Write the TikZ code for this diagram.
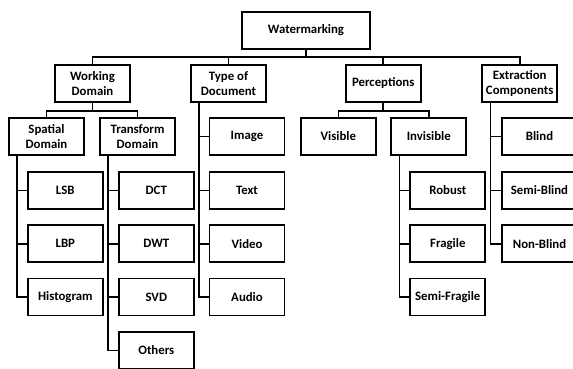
\documentclass[tikz,border=0pt]{standalone}
\usepackage{fontspec}
\setmainfont{Carlito}
\tikzset{
  box/.style={draw, line width=1.9pt, minimum width=75pt, minimum height=37pt,
    align=center, inner sep=1pt, outer sep=0pt,
    font=\bfseries\fontsize{12.8}{14.7}\selectfont},
  conn/.style={line width=1.6pt}
}
\begin{document}
\begin{tikzpicture}[x=1pt,y=-1pt]
\useasboundingbox (0,0) rectangle (573,369);
\clip (0,0) rectangle (573,369);
% level 0
\node[box, minimum width=128pt] (wm) at (306,30.5) {Watermarking};
% level 1
\node[box] (wd) at (92.5,83.5) {Working\\Domain};
\node[box] (td) at (228.5,83.5) {Type of\\Document};
\node[box] (pc) at (383.2,83.5) {Perceptions};
\node[box] (ec) at (519.7,83.5) {Extraction\\Components};
% level 2
\node[box] (sd) at (46.5,136.5) {Spatial\\Domain};
\node[box] (tf) at (137.5,136.5) {Transform\\Domain};
\node[box] (im) at (247,136.5) {Image};
\node[box] (vi) at (338.3,136.5) {Visible};
\node[box] (iv) at (428.8,136.5) {Invisible};
\node[box] (bl) at (539.5,136.5) {Blind};
% leaves
\node[box] (lsb) at (65.3,190.5) {LSB};
\node[box] (lbp) at (65.3,243.7) {LBP};
\node[box] (hist) at (65.3,297) {Histogram};
\node[box] (dct) at (156.3,190.5) {DCT};
\node[box] (dwt) at (156.3,243.7) {DWT};
\node[box] (svd) at (156.3,297) {SVD};
\node[box] (oth) at (156.3,350.3) {Others};
\node[box] (txt) at (247,190.5) {Text};
\node[box] (vid) at (247,243.7) {Video};
\node[box] (aud) at (247,297) {Audio};
\node[box] (rob) at (447.8,190.5) {Robust};
\node[box] (fra) at (447.8,243.7) {Fragile};
\node[box] (sfr) at (447.8,297) {Semi-Fragile};
\node[box] (sbl) at (539.5,190.5) {Semi-Blind};
\node[box] (nbl) at (539.5,243.7) {Non-Blind};
% connectors: top bus
\coordinate (bus) at (306,57);
\draw[conn] (wm.south) -- (bus);
\draw[conn] (wd.north) |- (bus) -| (ec.north);
\draw[conn] (td.north) -- (td.north |- bus);
\draw[conn] (pc.north) -- (pc.north |- bus);
% working domain
\draw[conn] (wd.south) -- ++(0,9) coordinate (wb);
\draw[conn] (sd.north) |- (wb) -| (tf.north);
% perceptions
\draw[conn] (pc.south) -- ++(0,9) coordinate (pb);
\draw[conn] (vi.north) |- (pb) -| (iv.north);
% side trees
\foreach \c in {lsb,lbp,hist} \draw[conn] ([xshift=7.7pt]sd.south west) |- (\c.west);
\foreach \c in {dct,dwt,svd,oth} \draw[conn] ([xshift=7.7pt]tf.south west) |- (\c.west);
\foreach \c in {im,txt,vid,aud} \draw[conn] ([xshift=8pt]td.south west) |- (\c.west);
\foreach \c in {rob,fra,sfr} \draw[conn] ([xshift=8pt]iv.south west) |- (\c.west);
\foreach \c in {bl,sbl,nbl} \draw[conn] ([xshift=8.3pt]ec.south west) |- (\c.west);
\end{tikzpicture}
\end{document}
